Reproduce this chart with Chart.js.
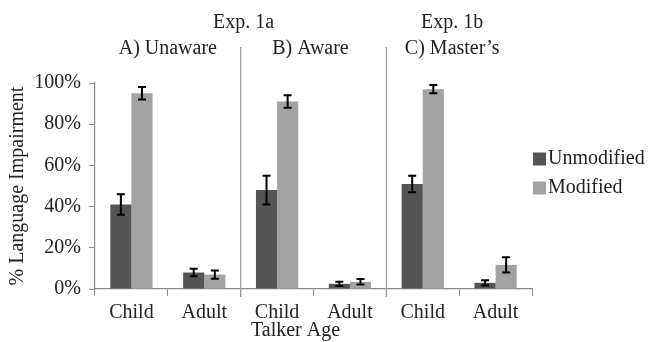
<!DOCTYPE html>
<html>
<head>
<meta charset="utf-8">
<script src="https://cdn.jsdelivr.net/npm/chart.js@4.4.0/dist/chart.umd.min.js"></script>
<style>
  html, body { margin: 0; padding: 0; background: #fff; }
  #wrap { width: 649px; height: 342px; }
</style>
</head>
<body>
<div id="wrap"><canvas id="chart" width="649" height="342"></canvas></div>
<script>
// data
const categories = ["Child", "Adult", "Child", "Adult", "Child", "Adult"];
const unmodified = [41, 8, 48, 2.5, 51, 3];
const unmodifiedErr = [5, 1.8, 7, 1, 4, 1.3];
const modified = [95, 7, 91, 3.5, 97, 11.7];
const modifiedErr = [3, 2, 3, 1.3, 2, 3.7];
const yTicks = [0, 20, 40, 60, 80, 100];
const panelTitles = ["A) Unaware", "B) Aware", "C) Master\u2019s"];
const expTitles = ["Exp. 1a", "Exp. 1b"];

const FONT = "'Liberation Serif', 'Times New Roman', serif";
Chart.defaults.font.family = FONT;
Chart.defaults.color = "#222";

// error bars, panel separators, titles and legend
const extras = {
  id: "extras",
  afterDatasetsDraw(chart) {
    const ctx = chart.ctx;
    const x = chart.scales.x, y = chart.scales.y;
    const errs = [unmodifiedErr, modifiedErr];

    ctx.save();
    ctx.strokeStyle = "#000";
    ctx.lineWidth = 2;
    chart.data.datasets.forEach((ds, di) => {
      chart.getDatasetMeta(di).data.forEach((bar, i) => {
        const hi = y.getPixelForValue(ds.data[i] + errs[di][i]);
        const lo = y.getPixelForValue(ds.data[i] - errs[di][i]);
        ctx.beginPath();
        ctx.moveTo(bar.x, hi); ctx.lineTo(bar.x, lo);
        ctx.moveTo(bar.x - 4, hi); ctx.lineTo(bar.x + 4, hi);
        ctx.moveTo(bar.x - 4, lo); ctx.lineTo(bar.x + 4, lo);
        ctx.stroke();
      });
    });

    // separators between the panels
    ctx.strokeStyle = "#9a9a9a";
    ctx.lineWidth = 1.2;
    const sep = [1.5, 3.5].map(v => (x.getPixelForValue(Math.floor(v)) + x.getPixelForValue(Math.ceil(v))) / 2);
    sep.forEach(px => {
      ctx.beginPath();
      ctx.moveTo(px, 47);
      ctx.lineTo(px, y.bottom + 8);
      ctx.stroke();
    });

    ctx.fillStyle = "#222";
    ctx.font = "20px " + FONT;
    ctx.textAlign = "center";
    ctx.textBaseline = "middle";
    const centers = [0, 2, 4].map(i => (x.getPixelForValue(i) + x.getPixelForValue(i + 1)) / 2);
    centers[1] -= 3;
    centers[2] -= 7;
    panelTitles.forEach((t, i) => ctx.fillText(t, centers[i], 49));
    ctx.fillText(expTitles[0], sep[0] + 3, 23);
    ctx.fillText(expTitles[1], centers[2], 23);

    // x axis title
    ctx.fillText("Talker Age", (x.left + x.right) / 2 - 18, 331);

    // legend
    ctx.textAlign = "left";
    chart.data.datasets.forEach((ds, di) => {
      const cy = 159 + di * 29;
      ctx.fillStyle = ds.backgroundColor;
      ctx.fillRect(x.right + 1, cy - 6.5, 13, 13);
      ctx.fillStyle = "#222";
      ctx.fillText(ds.label, x.right + 16, cy);
    });
    ctx.restore();
  }
};

new Chart(document.getElementById("chart"), {
  type: "bar",
  data: {
    labels: categories,
    datasets: [
      { label: "Unmodified", data: unmodified, backgroundColor: "#555555" },
      { label: "Modified", data: modified, backgroundColor: "#a3a3a3" }
    ]
  },
  options: {
    responsive: false,
    animation: false,
    layout: { padding: { top: 83, right: 117, left: 6, bottom: 0 } },
    categoryPercentage: 0.58,
    barPercentage: 1,
    plugins: {
      tooltip: { enabled: false },
      legend: { display: false }
    },
    scales: {
      x: {
        offset: true,
        border: { color: "#8a8a8a", width: 1.2 },
        grid: { offset: true, drawOnChartArea: false, tickLength: 7, color: "#8a8a8a" },
        ticks: { font: { size: 20 }, color: "#222", padding: 5 },
        afterFit(s) { s.height = 53; }
      },
      y: {
        min: 0,
        max: 100,
        afterBuildTicks(s) { s.ticks = yTicks.map(v => ({ value: v })); },
        border: { color: "#8a8a8a", width: 1.2 },
        grid: { drawOnChartArea: false, tickLength: 6, color: "#8a8a8a" },
        ticks: { font: { size: 20 }, color: "#222", padding: 8, callback: v => v + "%" },
        title: { display: true, text: "% Language Impairment", font: { size: 20 }, color: "#222", padding: 0 },
        afterFit(s) { s.width = 89; }
      }
    }
  },
  plugins: [extras]
});
</script>
</body>
</html>
